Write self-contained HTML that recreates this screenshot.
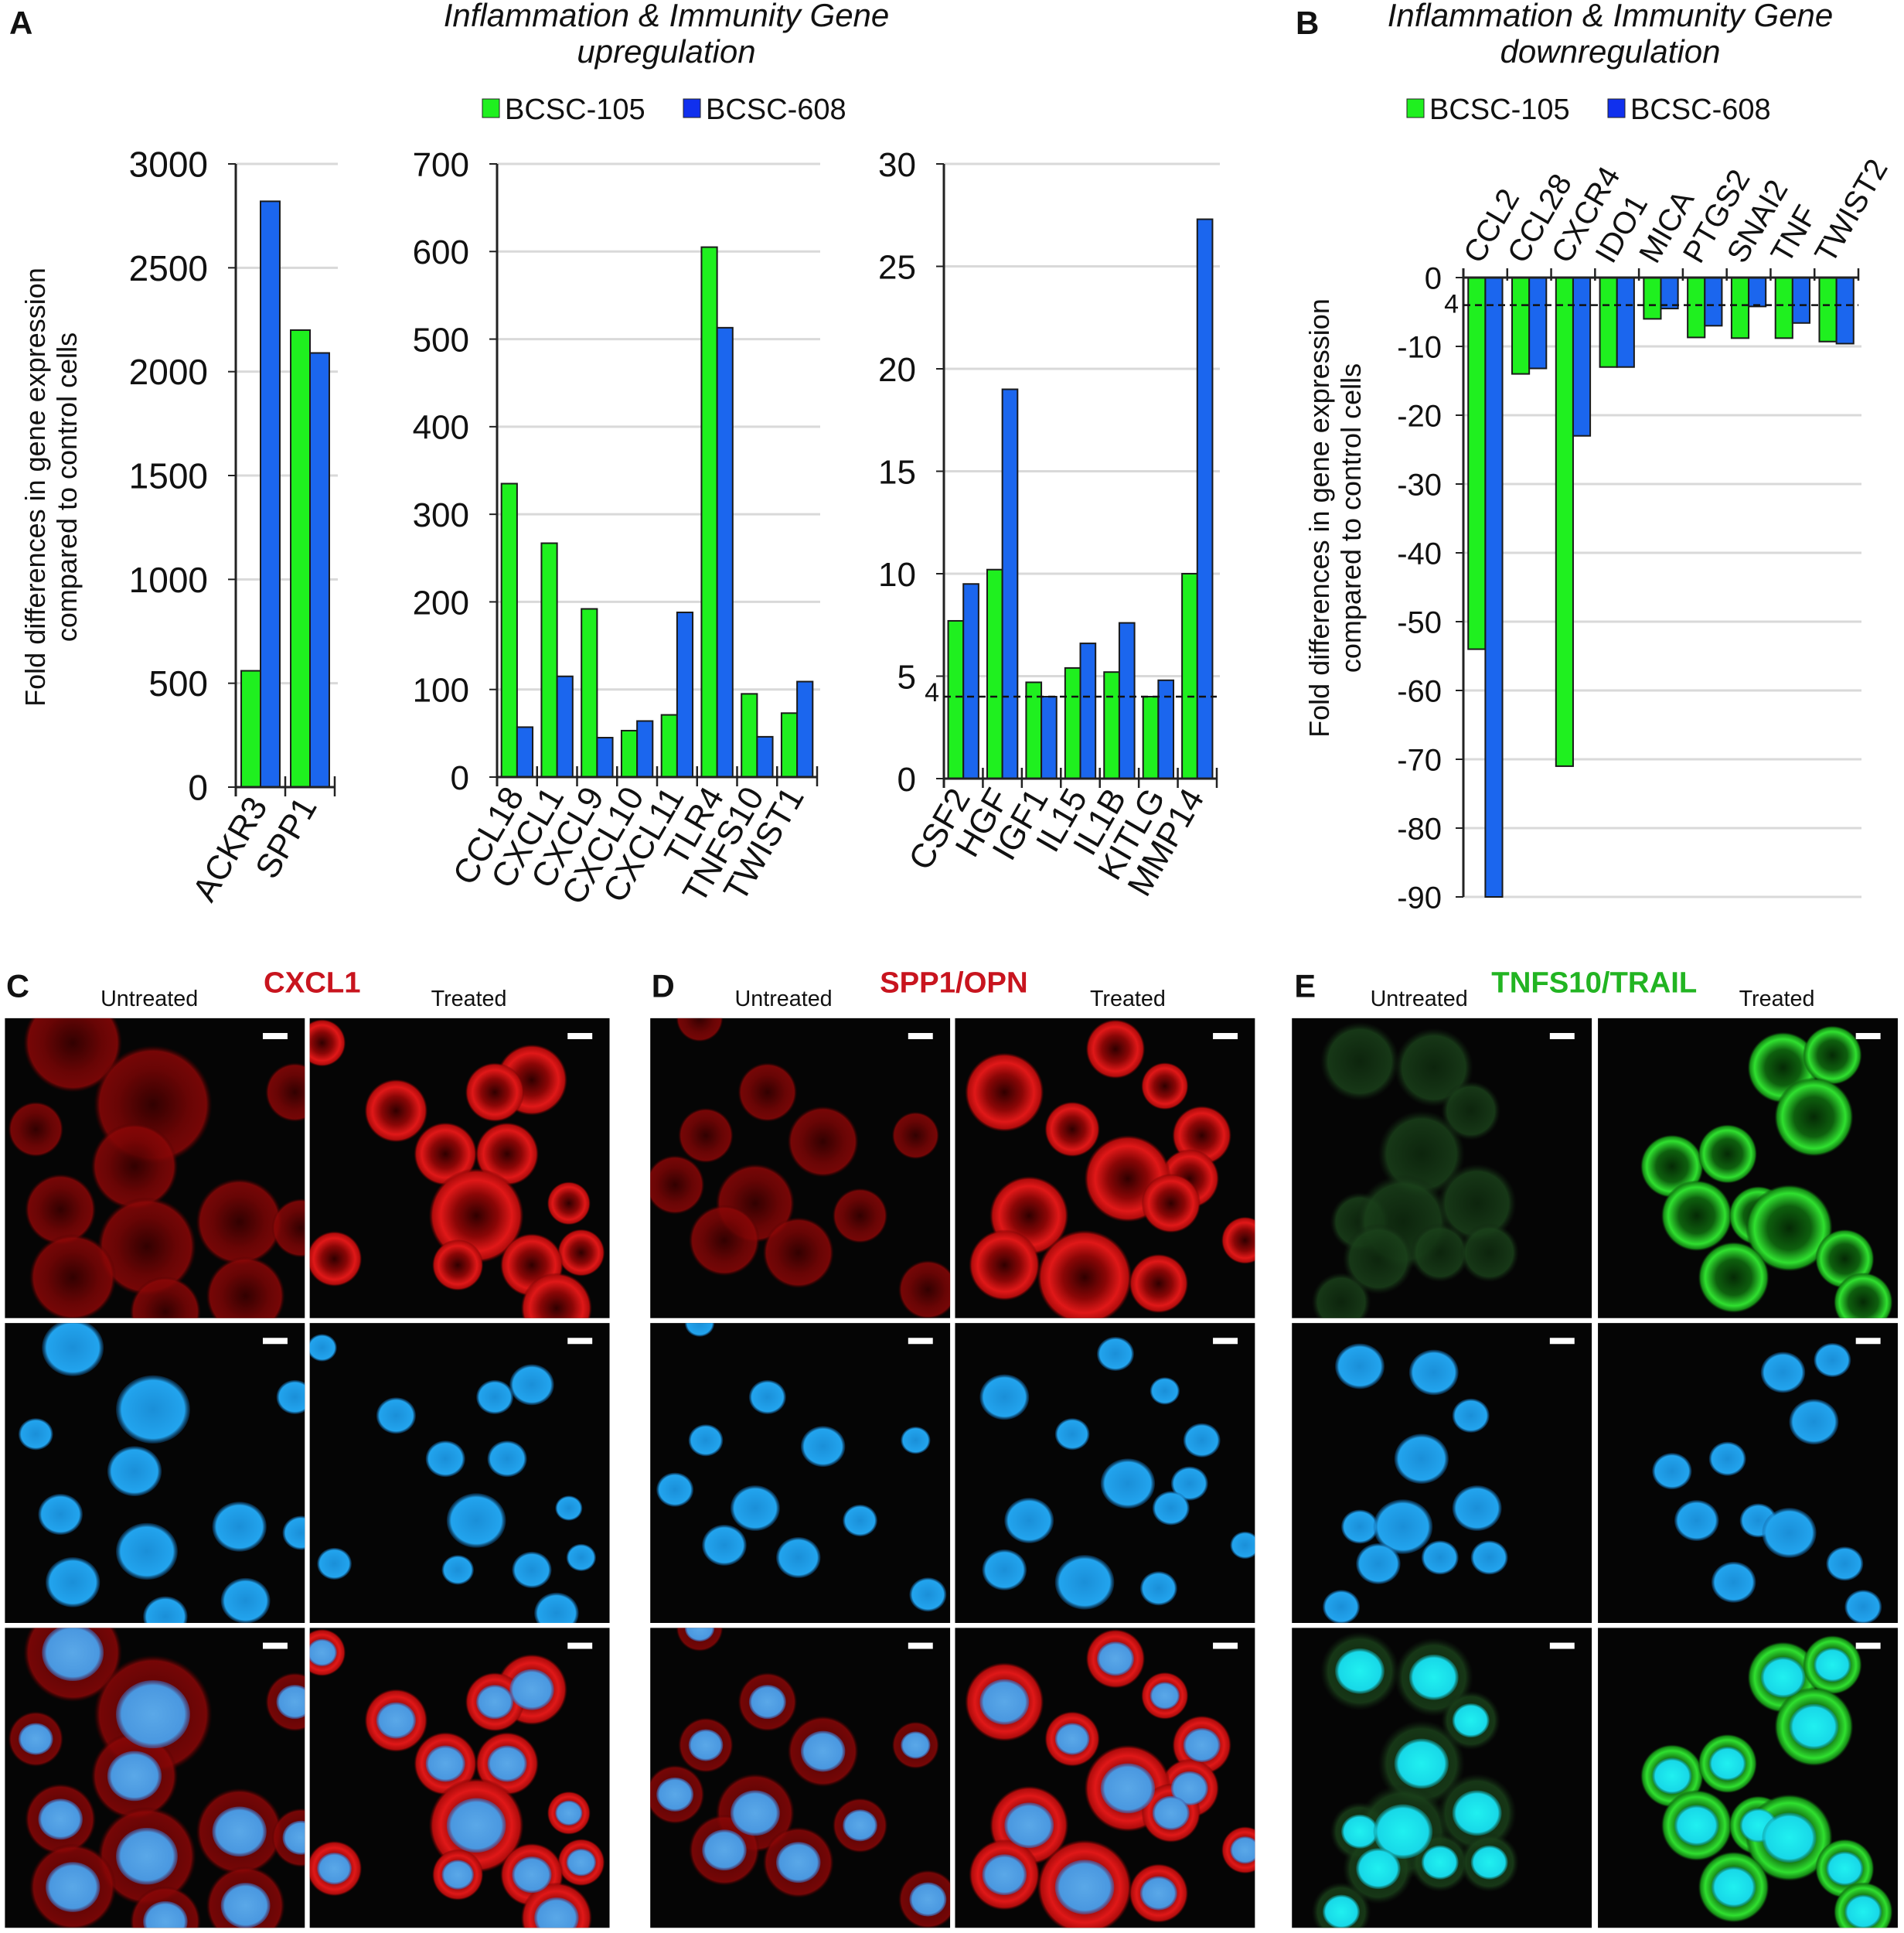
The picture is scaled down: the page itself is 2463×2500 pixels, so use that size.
<!DOCTYPE html>
<html><head><meta charset="utf-8">
<style>
html,body{margin:0;padding:0;background:#fff;}
svg{display:block;}
text{font-family:"Liberation Sans",Arial,sans-serif;}
</style></head>
<body>
<svg id="fig" xmlns="http://www.w3.org/2000/svg" width="2463" height="2500" viewBox="0 0 2463 2500">
<defs>
<radialGradient id="gRed" cx="50%" cy="50%" r="50%">
<stop offset="0" stop-color="#300000"/><stop offset="0.45" stop-color="#8a0606"/><stop offset="0.75" stop-color="#e01818"/><stop offset="0.92" stop-color="#b00c0c"/><stop offset="1" stop-color="#600000" stop-opacity="0"/></radialGradient>
<radialGradient id="gRedDim" cx="50%" cy="50%" r="50%">
<stop offset="0" stop-color="#3a0000"/><stop offset="0.6" stop-color="#7a0505"/><stop offset="0.9" stop-color="#8a0707"/><stop offset="1" stop-color="#400000" stop-opacity="0"/></radialGradient>
<radialGradient id="gGreen" cx="50%" cy="50%" r="50%">
<stop offset="0" stop-color="#052a05"/><stop offset="0.5" stop-color="#0e600e"/><stop offset="0.8" stop-color="#30e030"/><stop offset="0.93" stop-color="#168a16"/><stop offset="1" stop-color="#0a3a0a" stop-opacity="0"/></radialGradient>
<radialGradient id="gGreenDim" cx="50%" cy="50%" r="50%">
<stop offset="0" stop-color="#0e2a0e"/><stop offset="0.8" stop-color="#1a401a"/><stop offset="1" stop-color="#102010" stop-opacity="0"/></radialGradient>
<radialGradient id="gBlue" cx="50%" cy="50%" r="50%">
<stop offset="0" stop-color="#1a8fd8"/><stop offset="0.85" stop-color="#22a4ee"/><stop offset="1" stop-color="#1060a0" stop-opacity="0.3"/></radialGradient>
<radialGradient id="gCyan" cx="50%" cy="50%" r="50%">
<stop offset="0" stop-color="#20f0f0"/><stop offset="0.85" stop-color="#18d8e8"/><stop offset="1" stop-color="#109090" stop-opacity="0.4"/></radialGradient>
<radialGradient id="gMerge" cx="50%" cy="50%" r="50%">
<stop offset="0" stop-color="#5aa8e8"/><stop offset="0.85" stop-color="#4a98e0"/><stop offset="1" stop-color="#4060b0" stop-opacity="0.5"/></radialGradient>
</defs>
<g id="charts"></g>
<g id="micro"></g>
</svg>
<script>
// ===== Chart data =====
const series = ['BCSC-105','BCSC-608'];
const a1Categories = ['ACKR3','SPP1'];
const a1Green = [560, 2200];
const a1Blue = [2820, 2090];
const a1Ticks = [0,500,1000,1500,2000,2500,3000];

const a2Categories = ['CCL18','CXCL1','CXCL9','CXCL10','CXCL11','TLR4','TNFS10','TWIST1'];
const a2Green = [335, 267, 192, 53, 71, 605, 95, 73];
const a2Blue = [57, 115, 45, 64, 188, 513, 46, 109];
const a2Ticks = [0,100,200,300,400,500,600,700];

const a3Categories = ['CSF2','HGF','IGF1','IL15','IL1B','KITLG','MMP14'];
const a3Green = [7.7, 10.2, 4.7, 5.4, 5.2, 4.0, 10.0];
const a3Blue = [9.5, 19.0, 4.0, 6.6, 7.6, 4.8, 27.3];
const a3Ticks = [0,5,10,15,20,25,30];

const bCategories = ['CCL2','CCL28','CXCR4','IDO1','MICA','PTGS2','SNAI2','TNF','TWIST2'];
const bGreen = [-54, -14, -71, -13, -6, -8.7, -8.8, -8.8, -9.3];
const bBlue = [-90, -13.2, -23, -13, -4.5, -7, -4.2, -6.6, -9.6];
const bTicks = [0,-10,-20,-30,-40,-50,-60,-70,-80,-90];
const thresholdA = 4;
const thresholdB = -4;

const NS='http://www.w3.org/2000/svg';
function mk(tag, attrs, parent){
  const e=document.createElementNS(NS,tag);
  for(const k in attrs) e.setAttribute(k,attrs[k]);
  if(parent) parent.appendChild(e);
  return e;
}
const charts=document.getElementById('charts');
const GREEN='#1ff01f', BLUE='#1b66ee';

function txt(parent,x,y,s,size,opts){
  const t=mk('text',Object.assign({x:x,y:y,'font-size':size,fill:'#111'},opts||{}),parent);
  t.textContent=s; return t;
}

function drawChart(cfg){
  const g=mk('g',{},charts);
  
  
  const n=cfg.cats.length;
  const cw=(cfg.x1-cfg.x0)/n;
  const ys=v=> cfg.zeroY - v*cfg.scale;
  const extreme=cfg.ticks[cfg.ticks.length-1];
  cfg.ticks.forEach(t=>{
    const y=ys(t);
    if(t!==0){
      const l=mk('line',{x1:cfg.x0,x2:cfg.x1+4,y1:y,y2:y,stroke:'#d9d9d9','stroke-width':3},g);
       
    }
    mk('line',{x1:cfg.x0-10,x2:cfg.x0,y1:y,y2:y,stroke:'#222','stroke-width':2},g);
    const tl=txt(g,cfg.x0-cfg.tickGap,y+cfg.tickSize*0.36,String(t),cfg.tickSize,{'text-anchor':'end'});
     
  });
  cfg.cats.forEach((c,i)=>{
    const c0=cfg.x0+i*cw;
    [[cfg.green,GREEN,0.11],[cfg.blue,BLUE,0.5]].forEach(([arr,col,off])=>{
      const v=arr[i];
      const y=ys(v), y0=ys(0);
      const r=mk('rect',{x:c0+off*cw,y:Math.min(y,y0),width:0.39*cw,height:Math.abs(y-y0),fill:col,stroke:'#1a1a1a','stroke-width':2},g);
      
      
    });
    let lx,ly,anchor;
    if(cfg.labelsTop){ lx=c0+cw*0.5-6; ly=cfg.zeroY-16; anchor='start'; }
    else { lx=c0+cw*0.5+10; ly=cfg.zeroY+24; anchor='end'; }
    const cl=txt(g,lx,ly,c,cfg.catSize,{'text-anchor':anchor,transform:`rotate(-60 ${lx} ${ly})`});
     
  });
  const ya=ys(extreme), yz=ys(0);
  mk('line',{x1:cfg.x0,x2:cfg.x0,y1:Math.min(ya,yz-12),y2:Math.max(ya,yz+12),stroke:'#222','stroke-width':3},g);
  mk('line',{x1:cfg.x0,x2:cfg.x1,y1:yz,y2:yz,stroke:'#222','stroke-width':3},g);
  for(let i=1;i<=n;i++){
    const x=cfg.x0+i*cw;
    if(cfg.labelsTop) mk('line',{x1:x,x2:x,y1:yz-12,y2:yz+4,stroke:'#222','stroke-width':2.5},g);
    else mk('line',{x1:x,x2:x,y1:yz-14,y2:yz+12,stroke:'#222','stroke-width':2.5},g);
  }
  if(cfg.threshold!==undefined){
    const y=ys(cfg.threshold);
    const d=mk('line',{x1:cfg.x0,x2:cfg.x1,y1:y,y2:y,stroke:'#111','stroke-width':2.5,'stroke-dasharray':'9 6'},g);
     
    const tl=txt(g,cfg.x0-6,y+(cfg.labelsTop?10:6),'4',34,{'text-anchor':'end'});
     
  }
}

drawChart({name:'chart-a-high',cats:a1Categories,green:a1Green,blue:a1Blue,ticks:a1Ticks,x0:305,x1:433,zeroY:1018,scale:(1018-212)/3000,tickSize:46,tickGap:36,catSize:44});
drawChart({name:'chart-a-mid',cats:a2Categories,green:a2Green,blue:a2Blue,ticks:a2Ticks,x0:643,x1:1057,zeroY:1005,scale:(1005-212)/700,tickSize:44,tickGap:36,catSize:44});
drawChart({name:'chart-a-low',cats:a3Categories,green:a3Green,blue:a3Blue,ticks:a3Ticks,x0:1221,x1:1574,zeroY:1007,scale:(1007-212)/30,tickSize:44,tickGap:36,catSize:44,threshold:thresholdA});
drawChart({name:'chart-b-down',cats:bCategories,green:bGreen,blue:bBlue,ticks:bTicks,x0:1893,x1:2404,zeroY:359,scale:(1160-359)/90,tickSize:40,tickGap:28,catSize:40,labelsTop:true,threshold:thresholdB});

function label(x,y,s,size,name,opts){
  const t=txt(charts,x,y,s,size,opts);
  
  
  return t;
}
label(12,44,'A',42,'panel-letter-a',{'font-weight':'bold'});
label(1676,44,'B',42,'panel-letter-b',{'font-weight':'bold'});
label(862,34,'Inflammation & Immunity Gene',42,'title-a-line1',{'text-anchor':'middle','font-style':'italic'});
label(862,81,'upregulation',42,'title-a-line2',{'text-anchor':'middle','font-style':'italic'});
label(2083,34,'Inflammation & Immunity Gene',42,'title-b-line1',{'text-anchor':'middle','font-style':'italic'});
label(2083,81,'downregulation',42,'title-b-line2',{'text-anchor':'middle','font-style':'italic'});
function legend(x,name){
  const g=mk('g',{},charts);
  
  
  const e1=mk('rect',{x:x,y:128,width:22,height:24,fill:GREEN,stroke:'#222','stroke-width':1},g);
   
  const t1=txt(g,x+29,154,series[0],38);  
  const e2=mk('rect',{x:x+260,y:128,width:22,height:24,fill:'#1030ee',stroke:'#222','stroke-width':1},g);
   
  const t2=txt(g,x+289,154,series[1],38);  
}
legend(624,'legend-a');
legend(1820,'legend-b');
function ytitle(cx,cy,name){
  const g=mk('g',{transform:`translate(${cx} ${cy}) rotate(-90)`},charts);
  
  
  txt(g,0,-8,'Fold differences in gene expression',36,{'text-anchor':'middle'});
  txt(g,0,33,'compared to control cells',36,{'text-anchor':'middle'});
}
ytitle(66,630,'y-axis-title-a');
ytitle(1727,670,'y-axis-title-b');

// ===== Microscopy =====
const micro=document.getElementById('micro');
const S=1.5962;
const mg=mk('g',{transform:`scale(${S})`},micro);
const cols=[
 {x:4, stain:'red', bright:false, cells:[[55,20,25],[120,70,30],[235,60,15],[45,155,18],[105,120,22],[115,185,25],[55,210,22],[190,165,22],[195,225,20],[240,170,15],[130,238,18],[25,90,14]]},
 {x:251, stain:'red', bright:true, cells:[[180,50,18],[70,75,16],[110,110,16],[160,110,16],[135,160,24],[220,190,12],[180,200,16],[120,200,13],[210,150,11],[200,235,18],[20,195,14],[10,20,12],[150,60,15]]},
 {x:527, stain:'red', bright:false, cells:[[40,0,12],[95,60,15],[140,100,18],[20,135,15],[85,150,20],[120,190,18],[60,180,18],[215,95,12],[225,220,15],[170,160,14],[45,95,14]]},
 {x:774, stain:'red', bright:true, cells:[[40,60,20],[130,25,15],[170,55,12],[200,95,15],[190,130,15],[140,130,22],[60,160,20],[175,150,15],[105,210,24],[40,200,18],[165,215,15],[235,180,12],[95,90,14]]},
 {x:1047, stain:'green', bright:false, cells:[[55,35,20],[115,40,20],[145,75,15],[105,110,22],[55,165,15],[90,165,24],[150,150,20],[120,190,15],[160,190,15],[40,230,15],[70,195,18]]},
 {x:1295, stain:'green', bright:true, cells:[[150,40,18],[190,30,15],[175,80,20],[60,120,16],[105,110,15],[80,160,18],[130,160,15],[155,170,22],[110,210,18],[200,195,15],[215,230,15]]}
];
const rows=[825,1072,1319];
const P=243;
cols.forEach((c,ci)=>{
  const cp=mk('clipPath',{id:'clip'+ci},mg);
  mk('rect',{x:0,y:0,width:P,height:P},cp);
  rows.forEach((ry,ri)=>{
    const pg=mk('g',{transform:`translate(${c.x} ${ry})`},mg);
    
    
    mk('rect',{x:0,y:0,width:P,height:P,fill:'#050505'},pg);
    const inner=mk('g',{'clip-path':`url(#clip${ci})`},pg);
    const cyto = c.stain==='red' ? (c.bright?'url(#gRed)':'url(#gRedDim)') : (c.bright?'url(#gGreen)':'url(#gGreenDim)');
    const nuc = (ri===2 && c.stain==='green') ? 'url(#gCyan)' : (ri===2 ? 'url(#gMerge)' : 'url(#gBlue)');
    if(ri!==1){
      c.cells.forEach(([x,y,r])=>{
        mk('circle',{cx:x,cy:y,r:r*1.6,fill:cyto,opacity:c.bright?1:0.85},inner);
      });
    }
    if(ri!==0){
      c.cells.forEach(([x,y,r])=>{
        mk('ellipse',{cx:x,cy:y,rx:r,ry:r*0.92,fill:nuc},inner);
      });
    }
    mk('rect',{x:P-34,y:12,width:20,height:5,fill:'#fff'},pg);
  });
});
function mlabel(x,y,s,size,name,opts){
  const t=mk('text',Object.assign({x:x,y:y,'font-size':size,fill:'#111'},opts||{}),mg);
  t.textContent=s;
  
  
}
mlabel(5,808,'C',26,'panel-letter-c',{'font-weight':'bold'});
mlabel(528,808,'D',26,'panel-letter-d',{'font-weight':'bold'});
mlabel(1049,808,'E',26,'panel-letter-e',{'font-weight':'bold'});
mlabel(121,815,'Untreated',18,'label-untreated-c',{'text-anchor':'middle'});
mlabel(380,815,'Treated',18,'label-treated-c',{'text-anchor':'middle'});
mlabel(635,815,'Untreated',18,'label-untreated-d',{'text-anchor':'middle'});
mlabel(914,815,'Treated',18,'label-treated-d',{'text-anchor':'middle'});
mlabel(1150,815,'Untreated',18,'label-untreated-e',{'text-anchor':'middle'});
mlabel(1440,815,'Treated',18,'label-treated-e',{'text-anchor':'middle'});
mlabel(253,804,'CXCL1',24,'marker-title-cxcl1',{'text-anchor':'middle','font-weight':'bold',fill:'#c8141e'});
mlabel(773,804,'SPP1/OPN',24,'marker-title-spp1',{'text-anchor':'middle','font-weight':'bold',fill:'#c8141e'});
mlabel(1292,804,'TNFS10/TRAIL',24,'marker-title-tnfs10',{'text-anchor':'middle','font-weight':'bold',fill:'#22b422'});
</script>
</body></html>
